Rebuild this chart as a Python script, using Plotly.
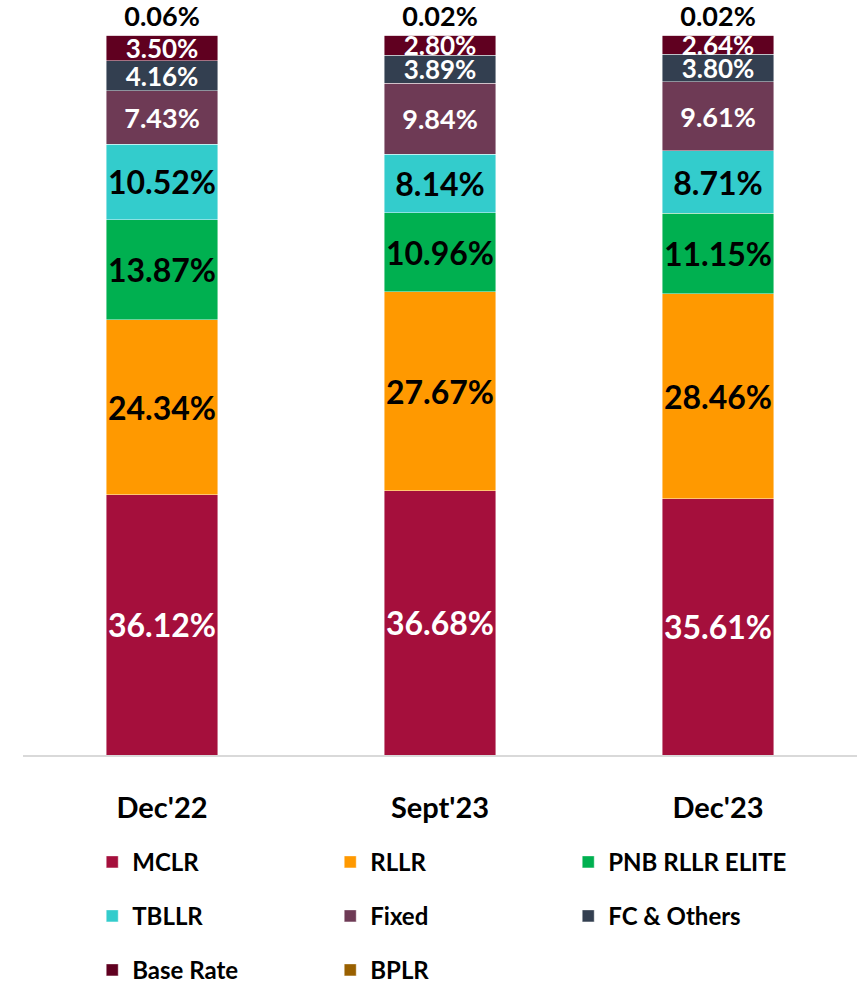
import plotly.graph_objects as go

# Loan book mix by interest-rate benchmark (% share)
periods = ["Dec'22", "Sept'23", "Dec'23"]

mclr = [36.12, 36.68, 35.61]
rllr = [24.34, 27.67, 28.46]
pnb_rllr_elite = [13.87, 10.96, 11.15]
tbllr = [10.52, 8.14, 8.71]
fixed = [7.43, 9.84, 9.61]
fc_others = [4.16, 3.89, 3.80]
base_rate = [3.50, 2.80, 2.64]
bplr = [0.06, 0.02, 0.02]

FONT = "Lato"

# name, values, fill colour, label colour, label size, legend row
series = [
    ("MCLR", mclr, "#A50F3C", "white", 32, "legend"),
    ("RLLR", rllr, "#FF9900", "black", 32, "legend"),
    ("PNB RLLR ELITE", pnb_rllr_elite, "#00B050", "black", 32, "legend"),
    ("TBLLR", tbllr, "#33CCCC", "black", 32, "legend2"),
    ("Fixed", fixed, "#6E3A55", "white", 27, "legend2"),
    ("FC & Others", fc_others, "#333F50", "white", 26, "legend2"),
    ("Base Rate", base_rate, "#600020", "white", 26, "legend3"),
    ("BPLR", bplr, "#996000", "black", 27, "legend3"),
]

fig = go.Figure()
for name, vals, color, tcolor, tsize, leg in series:
    top = name == "BPLR"
    fig.add_trace(go.Bar(
        name=name,
        x=periods,
        y=vals,
        marker=dict(color=color, line=dict(color="rgba(255,255,255,0.55)", width=0.8)),
        text=[f"{v:.2f}%" for v in vals],
        textposition="outside" if top else "inside",
        textangle=0,
        insidetextanchor="middle",
        constraintext="none",
        cliponaxis=False,
        textfont=dict(family=FONT, size=tsize, color=tcolor, weight="bold"),
        outsidetextfont=dict(family=FONT, size=tsize, color=tcolor, weight="bold"),
        legend=leg,
        hoverinfo="skip",
    ))

legend_common = dict(
    orientation="h",
    x=0.083,
    xanchor="left",
    yanchor="middle",
    entrywidth=193,
    entrywidthmode="pixels",
    font=dict(family=FONT, size=24, color="black", weight="bold"),
    bgcolor="rgba(0,0,0,0)",
    traceorder="normal",
)

fig.update_layout(
    width=864,
    height=986,
    barmode="stack",
    bargap=0.6,
    plot_bgcolor="white",
    paper_bgcolor="white",
    margin=dict(l=23, r=7, t=35, b=231, autoexpand=False),
    showlegend=True,
    legend=dict(legend_common, y=-0.149),
    legend2=dict(legend_common, y=-0.224),
    legend3=dict(legend_common, y=-0.299),
    xaxis=dict(
        showline=True,
        linecolor="#D9D9D9",
        linewidth=2,
        ticks="",
        ticklabelstandoff=26,
        tickfont=dict(family=FONT, size=29, color="black", weight="bold"),
        showgrid=False,
        zeroline=False,
    ),
    yaxis=dict(
        range=[0, 100],
        visible=False,
        showgrid=False,
        zeroline=False,
    ),
)

fig.write_html("out.html")
